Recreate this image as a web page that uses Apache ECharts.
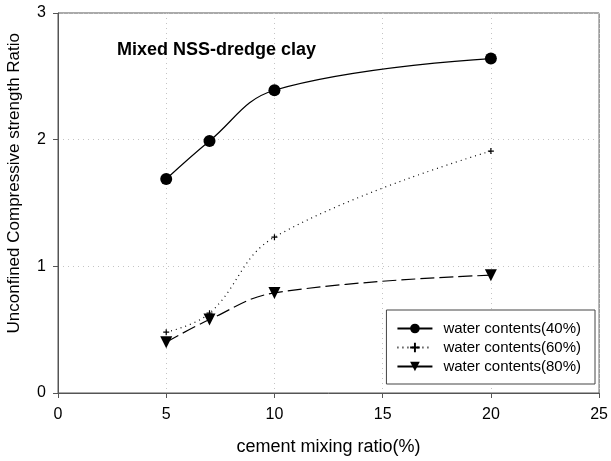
<!DOCTYPE html>
<html>
<head>
<meta charset="utf-8">
<script src="https://cdn.jsdelivr.net/npm/echarts@6/dist/echarts.min.js"></script>
<style>
  html, body { margin: 0; padding: 0; background: #fff; }
  #chart { width: 611px; height: 461px; }
</style>
</head>
<body>
<div id="chart"></div>
<script>
// Cement mixing ratio (%) for each test
const cementRatio = [5, 7, 10, 20];

// Unconfined compressive strength ratio per water content
const water40 = [1.69, 1.99, 2.39, 2.64];
const water60 = [0.48, 0.63, 1.23, 1.91];
const water80 = [0.40, 0.58, 0.79, 0.93];

const seriesNames = ['water contents(40%)', 'water contents(60%)', 'water contents(80%)'];
const chartTitle = 'Mixed NSS-dredge clay';
const xAxisTitle = 'cement mixing ratio(%)';
const yAxisTitle = 'Unconfined Compressive strength Ratio';

const pairs = ys => cementRatio.map((x, i) => [x, ys[i]]);

const font = 'Liberation Sans, Arial, sans-serif';
const plusSymbol = 'path://M4,0 L6,0 L6,4 L10,4 L10,6 L6,6 L6,10 L4,10 L4,6 L0,6 L0,4 L4,4 Z';
const gridDots = { color: '#c4c4c4', type: [1, 4], width: 1 };

const chart = echarts.init(document.getElementById('chart'), null, { renderer: 'canvas' });

chart.setOption({
  animation: false,
  backgroundColor: '#ffffff',
  textStyle: { fontFamily: font, color: '#000' },
  grid: {
    left: 58, right: 10, top: 13, bottom: 67,
    show: true, borderColor: '#555', borderWidth: 1
  },
  title: {
    text: chartTitle,
    left: 112, top: 36,
    textStyle: { fontFamily: font, fontSize: 18, fontWeight: 'bold', color: '#000' }
  },
  graphic: [{
    type: 'text',
    left: 6, top: 33,
    rotation: Math.PI / 2,
    style: { text: yAxisTitle, font: '17px ' + font, fill: '#000' }
  }],
  legend: {
    right: 16, top: 310,
    orient: 'vertical',
    itemWidth: 35, itemHeight: 12, itemGap: 4,
    padding: [11, 14, 10, 10],
    borderColor: '#444', borderWidth: 1,
    backgroundColor: '#fff',
    textStyle: { fontFamily: font, fontSize: 15, color: '#000', padding: [0, 0, 0, 6], lineHeight: 14 },
    data: [
      { name: seriesNames[0] },
      { name: seriesNames[1] },
      { name: seriesNames[2], lineStyle: { type: 'solid' } }
    ]
  },
  xAxis: {
    type: 'value', min: 0, max: 25, interval: 5,
    name: xAxisTitle, nameLocation: 'middle', nameGap: 45,
    nameTextStyle: { fontFamily: font, fontSize: 18, color: '#000' },
    axisLine: { onZero: false, lineStyle: { color: '#555', width: 1 } },
    axisTick: { show: true, inside: false, length: 5, lineStyle: { color: '#555' } },
    axisLabel: { fontFamily: font, fontSize: 16, color: '#000', margin: 14 },
    splitLine: { show: true, lineStyle: gridDots }
  },
  yAxis: {
    type: 'value', min: 0, max: 3, interval: 1,
    axisLine: { onZero: false, lineStyle: { color: '#555', width: 1 } },
    axisTick: { show: true, inside: false, length: 5, lineStyle: { color: '#555' } },
    axisLabel: { fontFamily: font, fontSize: 16, color: '#000', margin: 12 },
    splitLine: { show: true, lineStyle: gridDots }
  },
  series: [
    {
      name: seriesNames[0], type: 'line', data: pairs(water40),
      smooth: 0.4,
      symbol: 'circle', symbolSize: 12,
      itemStyle: { color: '#000' },
      lineStyle: { color: '#000', width: 1.2, type: 'solid' }
    },
    {
      name: seriesNames[1], type: 'line', data: pairs(water60),
      smooth: 0.4,
      symbol: plusSymbol, symbolSize: 6,
      itemStyle: { color: '#000' },
      lineStyle: { color: '#000', width: 1.2, type: [1, 4] }
    },
    {
      name: seriesNames[2], type: 'line', data: pairs(water80),
      smooth: 0.4,
      symbol: 'triangle', symbolRotate: 180, symbolSize: 12,
      itemStyle: { color: '#000' },
      lineStyle: { color: '#000', width: 1.2, type: [14, 5] }
    }
  ]
});
</script>
</body>
</html>
